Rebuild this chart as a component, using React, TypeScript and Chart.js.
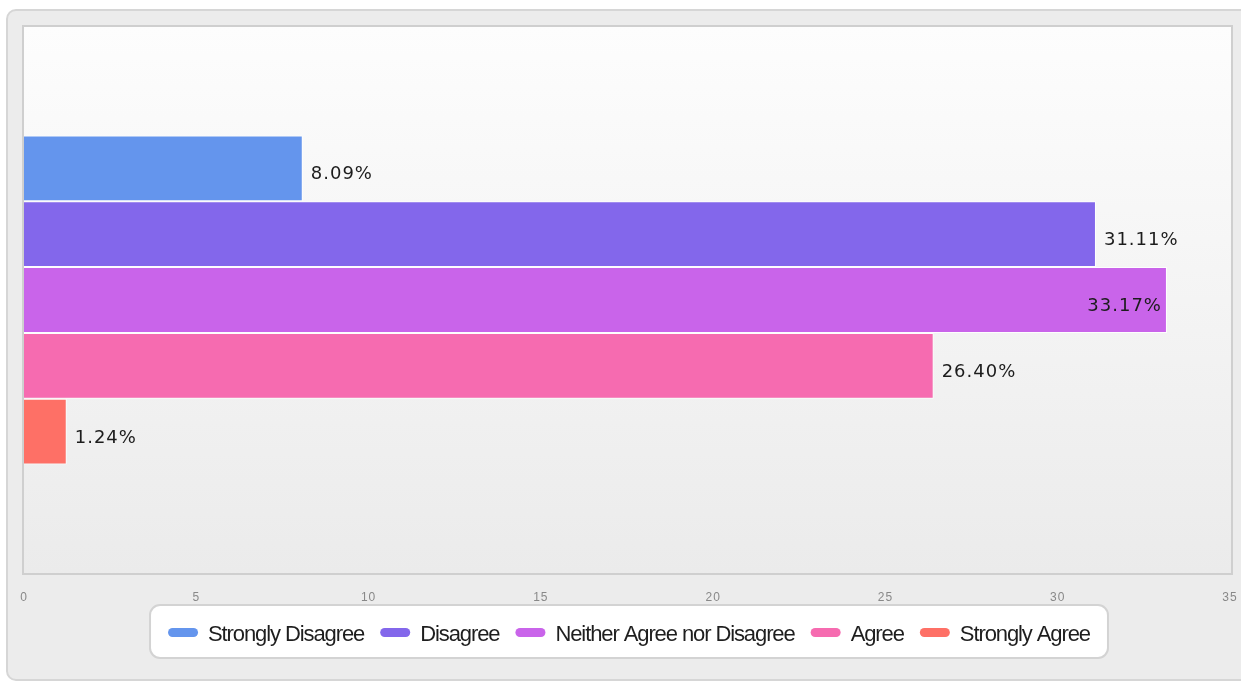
import React, { useEffect, useRef } from 'react';
import { Chart, registerables } from 'chart.js';

Chart.register(...registerables);

const categories = ['Responses'];
const seriesNames = [
  'Strongly Disagree',
  'Disagree',
  'Neither Agree nor Disagree',
  'Agree',
  'Strongly Agree',
];
const seriesValues = [8.09, 31.11, 33.17, 26.4, 1.24];
const seriesColors = ['#6495ed', '#8367eb', '#c964ea', '#f66bb0', '#fe7066'];
const xMin = 0;
const xMax = 35;
const xStep = 5;

const W = 1241;
const H = 682;

const plotFramePlugin = {
  id: 'plotFrame',
  beforeDraw(chart: any) {
    chart.ctx.letterSpacing = '1px';
  },
  beforeDatasetsDraw(chart: any) {
    const { ctx, chartArea } = chart;
    const { left, top, right, bottom } = chartArea;
    ctx.save();
    ctx.letterSpacing = '0px';
    const g = ctx.createLinearGradient(0, top, 0, bottom);
    g.addColorStop(0, '#fdfdfd');
    g.addColorStop(1, '#ebebeb');
    ctx.fillStyle = g;
    ctx.fillRect(left - 1, top, right - left + 3, bottom - top);
    ctx.strokeStyle = '#cfcfcf';
    ctx.lineWidth = 2;
    ctx.strokeRect(left - 1, top, right - left + 3, bottom - top);
    ctx.restore();
  },
};

const valueLabelPlugin = {
  id: 'valueLabels',
  afterDatasetsDraw(chart: any) {
    const { ctx, chartArea } = chart;
    ctx.save();
    ctx.font = '18px "DejaVu Sans"';
    ctx.letterSpacing = '1px';
    ctx.fillStyle = '#1c1c1c';
    ctx.textBaseline = 'alphabetic';
    chart.data.datasets.forEach((ds: any, i: number) => {
      const meta = chart.getDatasetMeta(i);
      meta.data.forEach((el: any, j: number) => {
        const v = ds.data[j];
        const txt = v.toFixed(2) + '%';
        const w = ctx.measureText(txt).width;
        const y = el.y + 11;
        if (el.x + 8 + w > chartArea.right) {
          ctx.textAlign = 'right';
          ctx.fillText(txt, el.x - 5, y);
        } else {
          ctx.textAlign = 'left';
          ctx.fillText(txt, el.x + 8, y);
        }
      });
    });
    ctx.restore();
  },
};

const legendBoxPlugin = {
  id: 'legendBox',
  afterDraw(chart: any) {
    const { ctx, chartArea } = chart;
    ctx.save();
    ctx.font = '22px "Liberation Sans", Arial, sans-serif';
    ctx.letterSpacing = '-1.1px';
    const pillW = 30;
    const pillH = 9;
    const gapPill = 10;
    const gapItem = 16;
    const items = chart.data.datasets.map((ds: any) => ({
      label: ds.label,
      color: ds.backgroundColor,
      tw: ctx.measureText(ds.label).width,
    }));
    let total = 0;
    items.forEach((it: any, i: number) => {
      total += pillW + gapPill + it.tw + (i < items.length - 1 ? gapItem : 0);
    });
    const cx = (chartArea.left + chartArea.right) / 2 + 2;
    const padX = 18;
    const boxX = cx - total / 2 - padX;
    const boxW = total + padX * 2;
    const boxY = 605;
    const boxH = 53;
    ctx.beginPath();
    ctx.roundRect(boxX, boxY, boxW, boxH, 10);
    ctx.fillStyle = '#ffffff';
    ctx.fill();
    ctx.lineWidth = 2;
    ctx.strokeStyle = '#d3d3d3';
    ctx.stroke();
    let x = cx - total / 2;
    const cy = 632.5;
    items.forEach((it: any) => {
      ctx.beginPath();
      ctx.roundRect(x, cy - pillH / 2, pillW, pillH, pillH / 2);
      ctx.fillStyle = it.color;
      ctx.fill();
      x += pillW + gapPill;
      ctx.fillStyle = '#1e1e1e';
      ctx.textAlign = 'left';
      ctx.textBaseline = 'alphabetic';
      ctx.fillText(it.label, x, 641);
      x += it.tw + gapItem;
    });
    ctx.restore();
  },
};

export default function App() {
  const canvasRef = useRef<HTMLCanvasElement | null>(null);

  useEffect(() => {
    if (!canvasRef.current) return;
    const chart = new Chart(canvasRef.current, {
      type: 'bar',
      data: {
        labels: categories,
        datasets: seriesNames.map((name, i) => ({
          label: name,
          data: [seriesValues[i]],
          backgroundColor: seriesColors[i],
          borderColor: 'rgba(255,255,255,0.9)',
          borderWidth: 1,
          barPercentage: 1,
          categoryPercentage: 0.6,
        })),
      },
      options: {
        indexAxis: 'y',
        animation: false,
        responsive: false,
        devicePixelRatio: 1,
        layout: { padding: { left: 24, right: 11, top: 26, bottom: 0 } },
        plugins: {
          legend: { display: false },
          tooltip: { enabled: false },
        },
        scales: {
          x: {
            type: 'linear',
            min: xMin,
            max: xMax,
            grid: { display: false, drawTicks: true, tickLength: 14 },
            border: { display: false },
            ticks: {
              stepSize: xStep,
              color: '#888888',
              padding: 2,
              font: { family: '"Liberation Sans", Arial, sans-serif', size: 12 },
            },
            afterFit: (axis: any) => {
              axis.height = 108;
            },
          },
          y: {
            display: false,
          },
        },
      },
      plugins: [plotFramePlugin, valueLabelPlugin, legendBoxPlugin],
    });
    return () => chart.destroy();
  }, []);

  return (
    <div
      style={{
        position: 'fixed',
        left: 0,
        top: 0,
        width: W,
        height: H,
        overflow: 'hidden',
        background: '#ffffff',
      }}
    >
      <div
        style={{
          position: 'absolute',
          left: 6,
          top: 9,
          width: 1260,
          height: 672,
          boxSizing: 'border-box',
          border: '2px solid #d6d6d6',
          borderRadius: 10,
          background: '#ececec',
        }}
      />
      <canvas
        ref={canvasRef}
        width={W}
        height={H}
        style={{ position: 'absolute', left: 0, top: 0, width: W, height: H }}
      />
    </div>
  );
}
